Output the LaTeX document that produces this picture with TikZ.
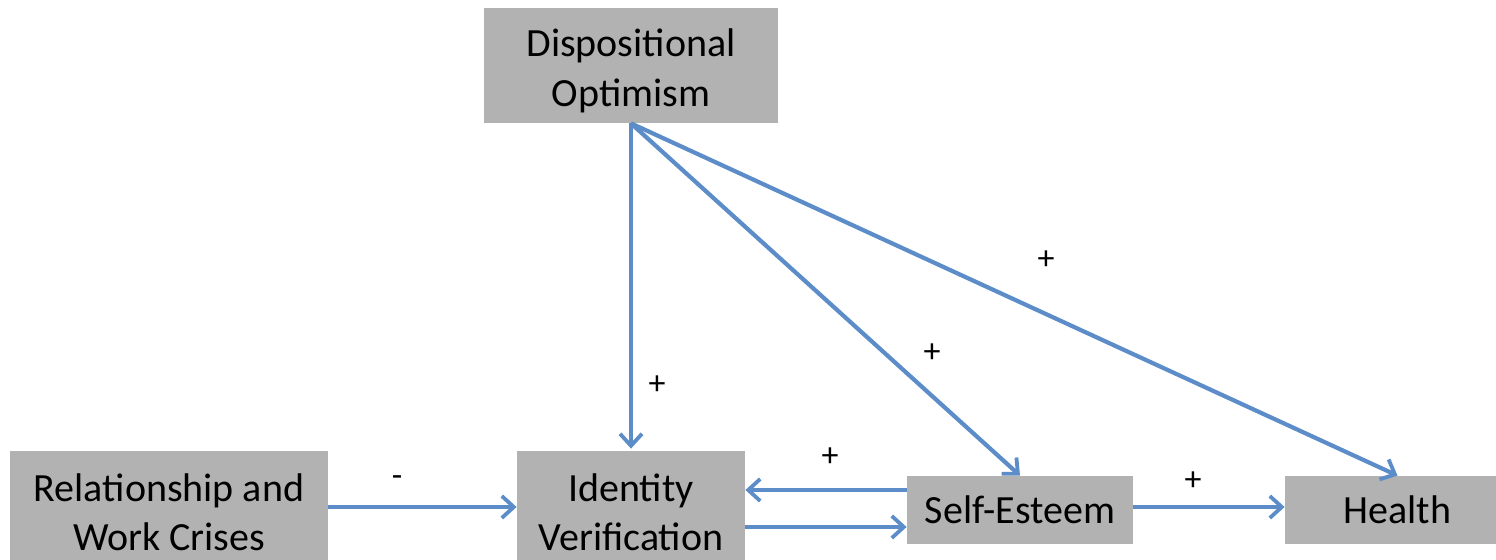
\documentclass[tikz,border=0pt]{standalone}
\usepackage{fontspec}
\setmainfont{Carlito}
\usetikzlibrary{arrows.meta}
\definecolor{boxgray}{RGB}{178,178,178}
\definecolor{arrowblue}{RGB}{92,141,200}
\tikzset{
  box/.style={fill=boxgray, draw=none, align=center, inner sep=0pt,
    font=\fontsize{20}{24.5}\selectfont},
  boxtext/.style={align=center, inner sep=0pt, font=\fontsize{20}{25}\selectfont},
  conn/.style={draw=arrowblue, line width=2.1pt,
    -{Straight Barb[length=6pt,width=11pt,line width=1.9pt]}},
  sign/.style={font=\fontsize{17}{19}\selectfont, inner sep=0pt}
}
\begin{document}
\begin{tikzpicture}[x=0.5pt,y=-0.5pt]
\useasboundingbox (0,0) rectangle (1496,560);
\clip (0,0) rectangle (1496,560);
\node[box, minimum width=147pt, minimum height=57.5pt] (opt) at (631,65.5) {};
\node[boxtext] (optlabel) at ([yshift=-2.5pt]opt.center) {Dispositional\\Optimism};
\node[box, minimum width=159pt, minimum height=61pt] (rel) at (169,512) {Relationship and\\Work Crises};
\node[box, minimum width=114pt, minimum height=61pt] (idv) at (631,512) {Identity\\Verification};
\node[box, minimum width=113pt, minimum height=34pt] (se) at (1020,510) {Self-Esteem};
\node[box, minimum width=112.5pt, minimum height=34pt] (hl) at (1397.5,510) {Health};

\draw[conn] (opt.south) -- ([yshift=1pt]idv.north);
\draw[conn] (opt.south) -- (se.north);
\draw[conn] (opt.south) -- (hl.north);
\draw[conn] ([yshift=2.5pt]rel.east) -- ([yshift=2.5pt]idv.west);
\draw[conn] ([yshift=10pt]se.west) -- ([yshift=10pt]se.west -| idv.east);
\draw[conn] ([yshift=-7.5pt]idv.east) -- ([yshift=-7.5pt]idv.east -| se.west);
\draw[conn] ([yshift=1.5pt]se.east) -- ([yshift=1.5pt]hl.west);

\node[sign] (s1) at (657,385) {+};
\node[sign] (s2) at (932,353) {+};
\node[sign] (s3) at (1046,260) {+};
\node[sign] (s4) at (397,481) {-};
\node[sign] (s5) at (830,457) {+};
\node[sign] (s6) at (1193,481) {+};
\end{tikzpicture}
\end{document}
